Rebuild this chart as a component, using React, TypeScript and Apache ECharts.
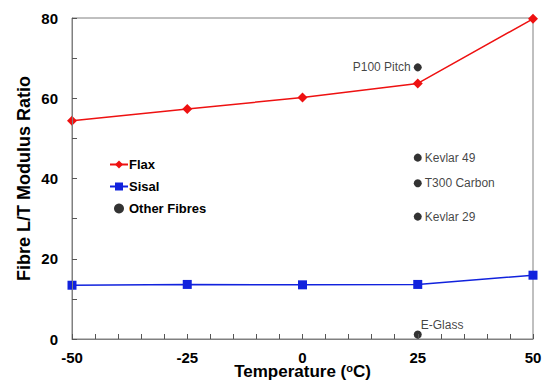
import React, { useEffect, useRef } from "react";
import * as echarts from "echarts";

const temperatures = [-50, -25, 0, 25, 50];
const flaxValues = [54.4, 57.3, 60.2, 63.7, 79.8];
const sisalValues = [13.4, 13.6, 13.5, 13.6, 15.9];
const otherNames = ["P100 Pitch", "Kevlar 49", "T300 Carbon", "Kevlar 29", "E-Glass"];
const otherTemps = [25, 25, 25, 25, 25];
const otherValues = [67.7, 45.2, 38.8, 30.5, 1.1];
const labelPositions = ["left", "right", "right", "right", "topRight"];

const FONT = "Arial, 'Liberation Sans', Helvetica, sans-serif";

export default function App() {
  const ref = useRef<HTMLDivElement>(null);
  useEffect(() => {
    if (!ref.current) return;
    const chart = echarts.init(ref.current, undefined, { renderer: "svg" });
    const axisGray = "#808080";
    const tickGray = "#555";
    chart.setOption({
      animation: false,
      textStyle: { fontFamily: FONT },
      grid: {
        left: 72,
        right: 9,
        top: 18,
        bottom: 48,
        show: true,
        borderColor: axisGray,
        borderWidth: 1,
        containLabel: false,
        outerBoundsMode: "none",
      },
      legend: {
        orient: "vertical",
        left: 104,
        top: 153,
        itemGap: 9,
        itemWidth: 18,
        itemHeight: 10,
        textStyle: { fontFamily: FONT, fontSize: 13, fontWeight: "bold", color: "#000", padding: [0, 0, 0, -4] },
        data: ["Flax", "Sisal", "Other Fibres"],
      },
      xAxis: {
        type: "value",
        min: -50,
        max: 50,
        interval: 25,
        z: 5,
        minorTick: { show: true, splitNumber: 5, length: 5, lineStyle: { color: tickGray, width: 1 } },
        axisLine: { show: true, onZero: false, lineStyle: { color: axisGray } },
        axisTick: { show: true, inside: true, length: 5, lineStyle: { color: tickGray, width: 1 } },
        splitLine: { show: false },
        axisLabel: { fontFamily: FONT, fontSize: 15, fontWeight: "bold", color: "#000", margin: 11 },
        name: "Temperature ({sup|o}C)",
        nameLocation: "middle",
        nameGap: 23,
        nameMoveOverlap: false,
        nameTextStyle: {
          fontFamily: FONT,
          fontSize: 17,
          fontWeight: "bold",
          color: "#000",
          rich: {
            sup: { fontFamily: FONT, fontSize: 11, fontWeight: "bold", color: "#000", verticalAlign: "top", padding: [0, 0, 8, 0] },
          },
        },
      },
      yAxis: {
        type: "value",
        min: 0,
        max: 80,
        interval: 20,
        z: 5,
        minorTick: { show: true, splitNumber: 2, length: 5, lineStyle: { color: tickGray, width: 1 } },
        axisLine: { show: true, onZero: false, lineStyle: { color: axisGray } },
        axisTick: { show: true, inside: true, length: 5, lineStyle: { color: tickGray, width: 1 } },
        splitLine: { show: false },
        axisLabel: { fontFamily: FONT, fontSize: 15, fontWeight: "bold", color: "#000", margin: 14 },
        name: "Fibre L/T Modulus Ratio",
        nameLocation: "middle",
        nameGap: 39,
        nameMoveOverlap: false,
        nameTextStyle: { fontFamily: FONT, fontSize: 18, fontWeight: "bold", color: "#000" },
      },
      series: [
        {
          name: "Flax",
          type: "line",
          data: temperatures.map((t, i) => [t, flaxValues[i]]),
          color: "#ee1111",
          lineStyle: { width: 1.5, color: "#ee1111" },
          symbol: "diamond",
          symbolSize: 10,
          itemStyle: { color: "#ee1111" },
        },
        {
          name: "Sisal",
          type: "line",
          data: temperatures.map((t, i) => [t, sisalValues[i]]),
          color: "#1122dd",
          lineStyle: { width: 1.5, color: "#1122dd" },
          symbol: "rect",
          symbolSize: 9,
          itemStyle: { color: "#1122dd" },
        },
        {
          name: "Other Fibres",
          type: "scatter",
          color: "#000",
          symbol: "circle",
          symbolSize: 8,
          itemStyle: { color: "#000" },
          data: otherNames.map((n, i) => ({
            name: n,
            value: [otherTemps[i], otherValues[i]],
            label: {
              show: true,
              position: labelPositions[i] === "topRight" ? [7, -12] : labelPositions[i],
              distance: 3,
              formatter: "{b}",
              fontFamily: FONT,
              fontSize: 12,
              color: "#111",
            },
          })),
        },
      ],
    });
    return () => chart.dispose();
  }, []);
  return <div ref={ref} style={{ width: 542, height: 387, position: "absolute", left: 0, top: 0, background: "#fff" }} />;
}
